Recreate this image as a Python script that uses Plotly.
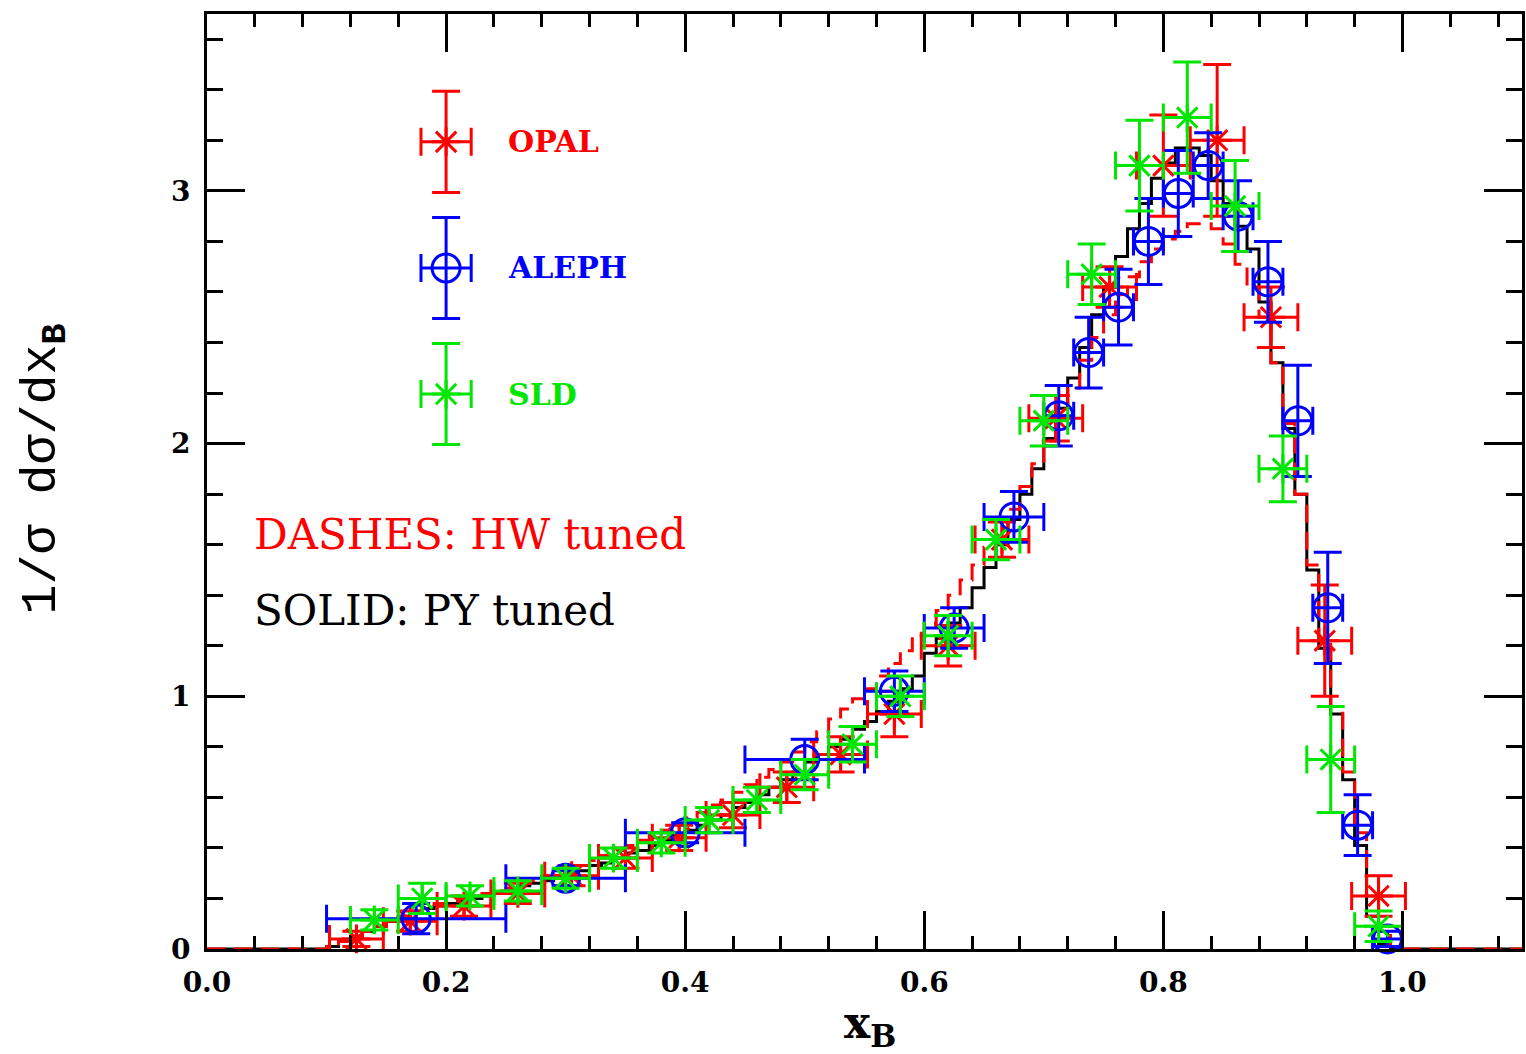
import numpy as np
import plotly.graph_objects as go

# ---------------- data ----------------
# Monte Carlo histograms, bins of width 0.01 starting at x = 0.10
hist_start = 0.10
hist_width = 0.01
py_tuned = [0.01, 0.03, 0.05, 0.07, 0.09, 0.11, 0.13, 0.14, 0.16, 0.17,
            0.18, 0.19, 0.20, 0.21, 0.22, 0.23, 0.25, 0.26, 0.27, 0.29,
            0.30, 0.31, 0.33, 0.34, 0.36, 0.38, 0.39, 0.41, 0.43, 0.45,
            0.47, 0.49, 0.51, 0.53, 0.56, 0.58, 0.61, 0.64, 0.67, 0.70,
            0.74, 0.77, 0.80, 0.83, 0.87, 0.90, 0.94, 0.98, 1.03, 1.08,
            1.17, 1.23, 1.29, 1.35, 1.43, 1.51, 1.60, 1.70, 1.80, 1.90,
            2.02, 2.14, 2.26, 2.38, 2.51, 2.62, 2.74, 2.85, 2.95, 3.05,
            3.11, 3.17, 3.17, 3.14, 3.04, 2.95, 2.86, 2.77, 2.56, 2.32,
            2.06, 1.80, 1.50, 1.19, 0.93, 0.67, 0.41, 0.13, 0.02, 0.00]
hw_tuned = [0.01, 0.03, 0.05, 0.07, 0.09, 0.11, 0.13, 0.15, 0.16, 0.18,
            0.19, 0.20, 0.21, 0.22, 0.23, 0.24, 0.26, 0.27, 0.29, 0.30,
            0.32, 0.33, 0.35, 0.37, 0.39, 0.41, 0.43, 0.45, 0.47, 0.49,
            0.52, 0.54, 0.57, 0.59, 0.62, 0.65, 0.68, 0.71, 0.74, 0.78,
            0.82, 0.86, 0.91, 0.95, 0.99, 1.03, 1.08, 1.13, 1.18, 1.24,
            1.29, 1.34, 1.40, 1.46, 1.52, 1.59, 1.66, 1.74, 1.83, 1.92,
            2.01, 2.11, 2.22, 2.33, 2.42, 2.51, 2.59, 2.66, 2.72, 2.77,
            2.81, 2.84, 2.87, 2.87, 2.85, 2.79, 2.71, 2.62, 2.50, 2.32,
            2.08, 1.80, 1.52, 1.22, 0.96, 0.70, 0.46, 0.22, 0.07, 0.01]

opal_x = [0.125, 0.170, 0.215, 0.260, 0.305, 0.350, 0.395, 0.440, 0.485, 0.530,
          0.575, 0.620, 0.665, 0.710, 0.755, 0.800, 0.845, 0.890, 0.935, 0.980]
opal_xerr = [0.0225] * 20
opal_y = [0.04, 0.11, 0.17, 0.22, 0.29, 0.36, 0.44, 0.53, 0.64, 0.77,
          0.93, 1.20, 1.62, 2.10, 2.62, 3.10, 3.20, 2.50, 1.22, 0.21]
opal_yerr = [0.03, 0.04, 0.04, 0.04, 0.04, 0.04, 0.05, 0.05, 0.06, 0.07,
             0.09, 0.08, 0.07, 0.09, 0.08, 0.20, 0.30, 0.12, 0.22, 0.08]

aleph_x = [0.175, 0.300, 0.400, 0.500, 0.575, 0.625, 0.675, 0.7125, 0.7375, 0.7625,
           0.7875, 0.8125, 0.8375, 0.8625, 0.8875, 0.9125, 0.9375, 0.9625, 0.9875]
aleph_xerr = [0.075, 0.05, 0.05, 0.05, 0.025, 0.025, 0.025, 0.0125, 0.0125, 0.0125,
              0.0125, 0.0125, 0.0125, 0.0125, 0.0125, 0.0125, 0.0125, 0.0125, 0.0125]
aleph_y = [0.12, 0.28, 0.46, 0.75, 1.02, 1.27, 1.71, 2.11, 2.36, 2.54,
           2.80, 2.99, 3.10, 2.90, 2.64, 2.09, 1.35, 0.49, 0.04]
aleph_yerr = [0.06, 0.03, 0.04, 0.08, 0.08, 0.08, 0.10, 0.12, 0.14, 0.15,
              0.17, 0.17, 0.13, 0.14, 0.16, 0.22, 0.22, 0.12, 0.03]

sld_x = [0.14, 0.18, 0.22, 0.26, 0.30, 0.34, 0.38, 0.42, 0.46, 0.50, 0.54,
         0.58, 0.62, 0.66, 0.70, 0.74, 0.78, 0.82, 0.86, 0.90, 0.94, 0.98]
sld_xerr = [0.02] * 22
sld_y = [0.115, 0.20, 0.21, 0.23, 0.28, 0.36, 0.42, 0.51, 0.59, 0.69, 0.81,
         1.00, 1.24, 1.62, 2.09, 2.67, 3.10, 3.29, 2.94, 1.90, 0.75, 0.09]
sld_yerr = [0.04, 0.06, 0.04, 0.04, 0.04, 0.04, 0.04, 0.05, 0.05, 0.06, 0.07,
            0.08, 0.08, 0.08, 0.10, 0.12, 0.18, 0.22, 0.18, 0.13, 0.21, 0.06]

x_ticks = [0.0, 0.2, 0.4, 0.6, 0.8, 1.0]
x_ticklabels = ["0.0", "0.2", "0.4", "0.6", "0.8", "1.0"]
y_ticks = [0, 1, 2, 3]
y_ticklabels = ["0", "1", "2", "3"]

# ---------------- style ----------------
RED = "#ff0000"
BLUE = "#0000ff"
GREEN = "#00e600"
BLACK = "#000000"
SERIF = "DejaVu Serif"
MONO = "Liberation Mono"
LW = 3

# histogram step outlines (zero below 0.10 and above 1.00 up to 1.1)
edges = np.round(hist_start + hist_width * np.arange(len(py_tuned) + 1), 3)
step_x = [0.0] + list(edges) + [1.1]
py_step_y = [0.0] + py_tuned + [0.0, 0.0]
hw_step_y = [0.0] + hw_tuned + [0.0, 0.0]

fig = go.Figure()

fig.add_trace(go.Scatter(x=step_x, y=py_step_y, mode="lines", line_shape="hv",
                         line=dict(color=BLACK, width=LW), showlegend=False))
fig.add_trace(go.Scatter(x=step_x, y=hw_step_y, mode="lines", line_shape="hv",
                         line=dict(color=RED, width=LW, dash="18px,9px"), showlegend=False))


def data_trace(x, y, xe, ye, color, symbol, size):
    return go.Scatter(
        x=x, y=y, mode="markers",
        marker=dict(symbol=symbol, size=size, color=color,
                    line=dict(color=color, width=LW)),
        error_x=dict(type="data", array=xe, color=color, thickness=LW, width=14),
        error_y=dict(type="data", array=ye, color=color, thickness=LW, width=14),
        showlegend=False, cliponaxis=False)


fig.add_trace(data_trace(opal_x, opal_y, opal_xerr, opal_yerr, RED, "asterisk-open", 24))
fig.add_trace(data_trace(aleph_x, aleph_y, aleph_xerr, aleph_yerr, BLUE, "circle-open", 28))
fig.add_trace(data_trace(sld_x, sld_y, sld_xerr, sld_yerr, GREEN, "asterisk-open", 24))

# legend keys drawn inside the plot
legend_names = ["OPAL", "ALEPH", "SLD"]
legend_colors = [RED, BLUE, GREEN]
legend_symbols = ["asterisk-open", "circle-open", "asterisk-open"]
legend_sizes = [24, 28, 24]
legend_x = 0.20
legend_y = [3.194, 2.695, 2.196]
for name, col, sym, sz, ly in zip(legend_names, legend_colors, legend_symbols, legend_sizes, legend_y):
    fig.add_trace(data_trace([legend_x], [ly], [0.021], [0.2], col, sym, sz))
    fig.add_annotation(x=0.25, y=ly, xref="x", yref="y", text="<b>%s</b>" % name,
                       showarrow=False, xanchor="left", yanchor="middle",
                       font=dict(family=SERIF, size=30, color=col))

fig.add_annotation(x=0.038, y=1.64, xref="x", yref="y", text="DASHES: HW tuned",
                   showarrow=False, xanchor="left", yanchor="middle",
                   font=dict(family=SERIF, size=42, color=RED))
fig.add_annotation(x=0.038, y=1.34, xref="x", yref="y", text="SOLID: PY tuned",
                   showarrow=False, xanchor="left", yanchor="middle",
                   font=dict(family=SERIF, size=42, color=BLACK))

# axis titles
fig.add_annotation(x=0.504, y=-0.082, xref="paper", yref="paper",
                   text="<b>x<sub>B</sub></b>", showarrow=False,
                   xanchor="center", yanchor="middle",
                   font=dict(family=SERIF, size=44, color=BLACK))
fig.add_annotation(x=-0.123, y=0.513, xref="paper", yref="paper",
                   text="1/σ dσ/dx<sub><b>B</b></sub>", showarrow=False, textangle=-90,
                   xanchor="center", yanchor="middle",
                   font=dict(family=MONO, size=50, color=BLACK))

axis_common = dict(showgrid=False, zeroline=False, showline=True, linecolor=BLACK,
                   linewidth=LW, mirror="allticks", ticks="inside", tickwidth=LW,
                   tickcolor=BLACK, ticklen=38,
                   tickfont=dict(family=SERIF, size=28, color=BLACK))

fig.update_xaxes(range=[0, 1.1], tickmode="array", tickvals=x_ticks,
                 ticktext=["<b>%s</b>" % t for t in x_ticklabels],
                 minor=dict(dtick=0.04, tick0=0, ticks="inside", ticklen=13,
                            tickwidth=LW, tickcolor=BLACK),
                 ticklabelstandoff=6, **axis_common)
fig.update_yaxes(range=[0, 3.7], tickmode="array", tickvals=y_ticks,
                 ticktext=["<b>%s</b>" % t for t in y_ticklabels],
                 minor=dict(dtick=0.2, tick0=0, ticks="inside", ticklen=16,
                            tickwidth=LW, tickcolor=BLACK),
                 ticklabelstandoff=8, **axis_common)

fig.update_layout(width=1526, height=1054, plot_bgcolor="white", paper_bgcolor="white",
                  margin=dict(l=207, r=1, t=14, b=105), showlegend=False)

fig.write_html("out.html")
